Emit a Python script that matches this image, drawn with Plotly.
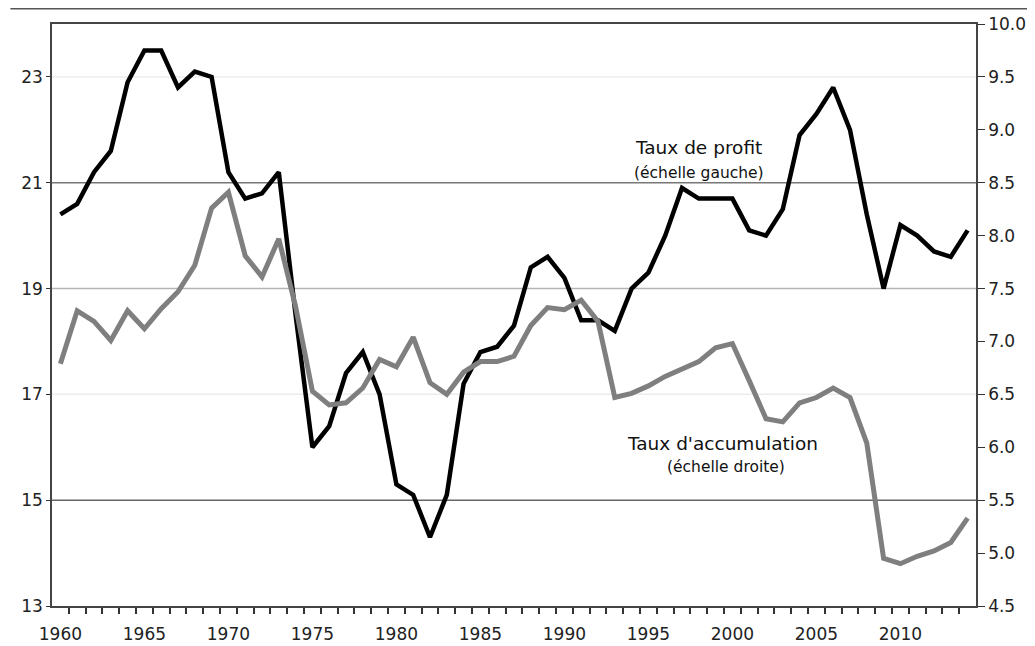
import plotly.graph_objects as go

years = list(range(1960, 2015))

# taux de profit, échelle gauche (%)
profit = [20.4, 20.6, 21.2, 21.6, 22.9, 23.5, 23.5, 22.8, 23.1, 23.0,
          21.2, 20.7, 20.8, 21.2, 18.5, 16.0, 16.4, 17.4, 17.8, 17.0,
          15.3, 15.1, 14.3, 15.1, 17.2, 17.8, 17.9, 18.3, 19.4, 19.6,
          19.2, 18.4, 18.4, 18.2, 19.0, 19.3, 20.0, 20.9, 20.7, 20.7,
          20.7, 20.1, 20.0, 20.5, 21.9, 22.3, 22.8, 22.0, 20.4, 19.0,
          20.2, 20.0, 19.7, 19.6, 20.1]

# taux d'accumulation, échelle droite (%)
accum = [6.79, 7.29, 7.19, 7.01, 7.29, 7.12, 7.31, 7.47, 7.72, 8.26,
         8.41, 7.81, 7.61, 7.97, 7.33, 6.53, 6.40, 6.42, 6.56, 6.83,
         6.76, 7.04, 6.61, 6.50, 6.71, 6.81, 6.81, 6.86, 7.15, 7.32,
         7.30, 7.39, 7.19, 6.47, 6.51, 6.58, 6.67, 6.74, 6.81, 6.94,
         6.98, 6.63, 6.27, 6.24, 6.42, 6.47, 6.56, 6.47, 6.04, 4.95,
         4.90, 4.97, 5.02, 5.10, 5.33]

left_ticks = [13, 15, 17, 19, 21, 23]
right_ticks = [4.5, 5.0, 5.5, 6.0, 6.5, 7.0, 7.5, 8.0, 8.5, 9.0, 9.5, 10.0]
year_labels = [1960, 1965, 1970, 1975, 1980, 1985, 1990, 1995, 2000, 2005, 2010]

font = "DejaVu Sans, Liberation Sans, sans-serif"

fig = go.Figure()
fig.add_trace(go.Scatter(x=years, y=profit, mode="lines", name="Taux de profit",
                         line=dict(color="#000000", width=4.5)))
fig.add_trace(go.Scatter(x=years, y=accum, mode="lines", name="Taux d'accumulation",
                         yaxis="y2", line=dict(color="#7f7f7f", width=5)))

# horizontal grid lines, drawn with the look of the original
grid = {23: "#ececec", 21: "#777777", 19: "#b5b5b5", 17: "#ececec", 15: "#666666"}
shapes = []
for v, c in grid.items():
    shapes.append(dict(type="line", xref="paper", yref="y", x0=0, x1=1, y0=v, y1=v,
                       line=dict(color=c, width=1.5), layer="below"))
# rule at the very top of the page
shapes.append(dict(type="line", xref="paper", yref="paper", x0=-0.045, x1=1.07,
                   y0=1.026, y1=1.026, line=dict(color="#555555", width=1.5)))

annotations = [
    dict(x=1998, y=21.66, xref="x", yref="y", text="Taux de profit", showarrow=False,
         font=dict(size=18.5, color="#111111", family=font)),
    dict(x=1998, y=21.18, xref="x", yref="y", text="(échelle gauche)", showarrow=False,
         font=dict(size=15.5, color="#111111", family=font)),
    dict(x=1999.4, y=16.08, xref="x", yref="y", text="Taux d'accumulation", showarrow=False,
         font=dict(size=18.5, color="#111111", family=font)),
    dict(x=1999.6, y=15.62, xref="x", yref="y", text="(échelle droite)", showarrow=False,
         font=dict(size=15.5, color="#111111", family=font)),
]

fig.update_layout(
    width=1027, height=638,
    margin=dict(l=44, r=59, t=16, b=40, autoexpand=False),
    paper_bgcolor="white", plot_bgcolor="white",
    showlegend=False,
    font=dict(family=font, size=17, color="#222222"),
    shapes=shapes,
    annotations=annotations,
    xaxis=dict(range=[1959.5, 2014.5], tickvals=year_labels, ticks="",
               showgrid=False, zeroline=False, automargin=False,
               showline=True, linecolor="#444444", linewidth=1.5, mirror=True,
               tickfont=dict(size=17), ticklabelstandoff=12,
               minor=dict(tickvals=[y - 0.5 for y in years[1:]], ticks="outside",
                          ticklen=6, tickwidth=1.5, tickcolor="#333333", showgrid=False)),
    yaxis=dict(range=[13, 24], tickvals=left_ticks, ticks="outside", ticklen=4,
               tickcolor="#333333", showgrid=False, zeroline=False, automargin=False,
               showline=True, linecolor="#444444", linewidth=1.5,
               tickfont=dict(size=17)),
    yaxis2=dict(range=[4.5, 10], tickvals=right_ticks, tickformat=".1f",
                overlaying="y", side="right", ticks="outside", ticklen=7,
                tickcolor="#333333", showgrid=False, zeroline=False, automargin=False,
                showline=True, linecolor="#444444", linewidth=1.5,
                tickfont=dict(size=17)),
)

fig.write_html("out.html")
